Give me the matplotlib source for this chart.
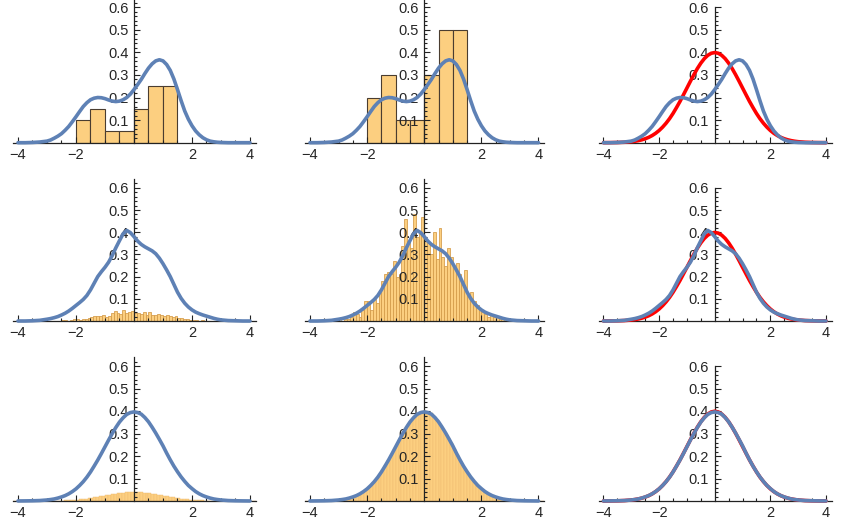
import numpy as np
import matplotlib
matplotlib.use("Agg")
import matplotlib.pyplot as plt
from matplotlib.ticker import FixedLocator, NullFormatter

plt.rcParams['font.family'] = ['Liberation Sans', 'DejaVu Sans']

# ---- data ----

# row 1: 20-point sample, bin width 0.5
small_edges = [-2.0, -1.5, -1.0, -0.5, 0.0, 0.5, 1.0, 1.5]
small_prob = [0.10, 0.15, 0.05, 0.05, 0.15, 0.25, 0.25]
small_width = 0.5

# row 2: medium sample, bin width 0.1 (pdf heights), left edges start at -3.4
mid_start = -3.4
mid_width = 0.1
mid_pdf = [0.01, 0.0, 0.0, 0.0, 0.01, 0.0, 0.01, 0.01, 0.02, 0.04,
           0.03, 0.02, 0.05, 0.09, 0.09, 0.05, 0.10, 0.08, 0.14, 0.18,
           0.21, 0.22, 0.21, 0.27, 0.20, 0.21, 0.34, 0.46, 0.36, 0.33,
           0.48, 0.38, 0.40, 0.47, 0.36, 0.35, 0.30, 0.40, 0.28, 0.42,
           0.29, 0.25, 0.33, 0.29, 0.24, 0.26, 0.21, 0.17, 0.23, 0.12,
           0.13, 0.09, 0.07, 0.05, 0.04, 0.03, 0.02, 0.03, 0.02, 0.02,
           0.01, 0.02, 0.01]

# row 3: large sample, bin width 0.1 (pdf heights), left edges start at -4.3
big_start = -4.3
big_width = 0.1
big_pdf = [0.0001, 0.0001, 0.0001, 0.0002, 0.0003, 0.0004, 0.0005, 0.0008, 0.001, 0.0015,
           0.002, 0.003, 0.004, 0.005, 0.007, 0.009, 0.012, 0.015, 0.020, 0.025,
           0.032, 0.040, 0.049, 0.060, 0.072, 0.086, 0.102, 0.120, 0.139, 0.160,
           0.183, 0.206, 0.230, 0.254, 0.278, 0.301, 0.323, 0.343, 0.360, 0.376,
           0.387, 0.394, 0.398, 0.399, 0.395, 0.390, 0.375, 0.359, 0.343, 0.322,
           0.300, 0.279, 0.256, 0.232, 0.205, 0.182, 0.160, 0.139, 0.120, 0.102,
           0.086, 0.072, 0.060, 0.049, 0.040, 0.032, 0.025, 0.020, 0.015, 0.012,
           0.009, 0.007, 0.005, 0.004, 0.003, 0.002, 0.0015, 0.001, 0.0008, 0.0005,
           0.0004, 0.0003, 0.0002, 0.0001, 0.0001, 0.0001]

# smooth kernel density curves and the normal pdf, sampled on this x grid
curve_x = ([-4.0, -3.75, -3.5, -3.25]
           + [round(-3 + 0.125 * i, 3) for i in range(49)]
           + [3.25, 3.5, 3.75, 4.0])
kde_small = [0.0, 0.0, 0.001, 0.003,
             0.007, 0.012, 0.02, 0.029, 0.04, 0.055, 0.072, 0.093, 0.115, 0.138, 0.16, 0.177,
             0.19, 0.197, 0.2, 0.199, 0.195, 0.189, 0.184, 0.182, 0.184, 0.19, 0.2, 0.215,
             0.235,
             0.257, 0.28, 0.306, 0.33, 0.349, 0.362, 0.367, 0.362, 0.346, 0.32, 0.282, 0.235,
             0.186, 0.14, 0.104, 0.075, 0.052, 0.035, 0.022, 0.013, 0.007, 0.004, 0.002, 0.001,
             0.0, 0.0, 0.0, 0.0]
kde_mid = [0.0, 0.0, 0.001, 0.003,
           0.008, 0.011, 0.015, 0.02, 0.027, 0.035, 0.045, 0.057, 0.07, 0.083, 0.097, 0.115,
           0.14, 0.17, 0.2, 0.222, 0.242, 0.265, 0.295, 0.33, 0.362, 0.393, 0.408, 0.398,
           0.38,
           0.36, 0.345, 0.334, 0.325, 0.316, 0.303, 0.283, 0.258, 0.23, 0.2, 0.165, 0.13,
           0.102, 0.08, 0.063, 0.05, 0.04, 0.033, 0.027, 0.022, 0.017, 0.012, 0.008, 0.005,
           0.002, 0.001, 0.0, 0.0]
kde_big = [0.0002, 0.0005, 0.001, 0.002,
           0.0045, 0.0065, 0.009, 0.013, 0.018, 0.024, 0.032, 0.042, 0.054, 0.069, 0.086, 0.106,
           0.129, 0.155, 0.182, 0.211, 0.241, 0.271, 0.300, 0.327, 0.351, 0.370, 0.385, 0.393,
           0.396,
           0.393, 0.386, 0.371, 0.352, 0.328, 0.302, 0.274, 0.245, 0.213, 0.183, 0.155, 0.130,
           0.107, 0.087, 0.069, 0.055, 0.042, 0.032, 0.024, 0.018, 0.013, 0.009, 0.0065, 0.0045,
           0.002, 0.001, 0.0005, 0.0002]
normal_pdf = [0.0001, 0.0004, 0.0009, 0.002,
              0.0044, 0.0064, 0.0091, 0.0127, 0.0175, 0.0237, 0.0317, 0.0417, 0.054, 0.0689,
              0.0863, 0.1064, 0.1295, 0.1554, 0.1826, 0.2121, 0.242, 0.2721, 0.3011, 0.3282,
              0.3521, 0.3719, 0.3867, 0.3958,
              0.3989,
              0.3958, 0.3867, 0.3719, 0.3521, 0.3282, 0.3011, 0.2721, 0.242, 0.2121, 0.1826,
              0.1554, 0.1295, 0.1064, 0.0863, 0.0689, 0.054, 0.0417, 0.0317, 0.0237, 0.0175,
              0.0127, 0.0091, 0.0064, 0.0044,
              0.002, 0.0009, 0.0004, 0.0001]

# ---- style ----
BLUE = '#5E81B5'
RED = '#FF0000'
FACE = '#FCCF80'
TEXT = '#262626'
W, H = 845, 524
XMIN, XMAX = -4.17, 4.2

# pixel position of x=-4 and x=4 for each column, y=0 pixel and px per unit for each row
col_px = [(18.0, 250.0), (310.0, 538.5), (603.5, 826.0)]
row_px = [(142.7, 226.0), (321.0, 222.0), (501.0, 225.0)]

fig = plt.figure(figsize=(W / 100, H / 100), dpi=100)


def make_axes(row, col):
    a, b = col_px[col]
    unit = (b - a) / 8
    left = a + (XMIN + 4) * unit
    right = a + (XMAX + 4) * unit
    y0, yu = row_px[row]
    ytop = 0.6 if col == 2 else (0.632 if row == 0 else 0.64)
    ax = fig.add_axes([left / W, 1 - y0 / H, (right - left) / W, ytop * yu / H])
    ax.set_xlim(XMIN, XMAX)
    ax.set_ylim(0, ytop)
    ax.patch.set_visible(False)
    for s in ['top', 'right']:
        ax.spines[s].set_visible(False)
    ax.spines['left'].set_position(('data', 0))
    for s in ['left', 'bottom']:
        ax.spines[s].set_linewidth(0.9)
        ax.spines[s].set_color('#222222')
    ax.set_axisbelow(False)
    ax.xaxis.set_major_locator(FixedLocator([-4, -2, 2, 4]))
    ax.xaxis.set_minor_locator(FixedLocator([-3.5, -3, -2.5, -1.5, -1, -0.5, 0.5, 1, 1.5, 2.5, 3, 3.5]))
    ax.set_xticklabels(['\u22124', '\u22122', '2', '4'])
    ax.yaxis.set_major_locator(FixedLocator([0.1, 0.2, 0.3, 0.4, 0.5, 0.6]))
    ax.yaxis.set_minor_locator(FixedLocator([v / 100 for v in range(2, 64, 2) if v % 10 != 0]))
    ax.set_yticklabels(['0.1', '0.2', '0.3', '0.4', '0.5', '0.6'])
    ax.yaxis.set_minor_formatter(NullFormatter())
    ax.tick_params(which='both', direction='in', color='#222222', width=0.8,
                   labelsize=10.5, labelcolor=TEXT)
    ax.tick_params(which='major', length=4)
    ax.tick_params(which='minor', length=2.2)
    ax.tick_params(axis='y', pad=4.0)
    ax.tick_params(axis='x', pad=3.5)
    return ax


def draw_bars(ax, start, width, heights, edge, lw):
    lefts = [start + i * width for i in range(len(heights))]
    ax.bar(lefts, heights, width=width, align='edge', color=FACE,
           edgecolor=edge, linewidth=lw, zorder=1)


def draw_curve(ax, ys, color):
    ax.plot(curve_x, ys, color=color, lw=2.6, solid_capstyle='round',
            solid_joinstyle='round', clip_on=False, zorder=3)


# row 1
small_pdf = [p / small_width for p in small_prob]
ax = make_axes(0, 0)
draw_bars(ax, small_edges[0], small_width, small_prob, '#4a3d30', 0.8)
draw_curve(ax, kde_small, BLUE)
ax = make_axes(0, 1)
draw_bars(ax, small_edges[0], small_width, small_pdf, '#4a3d30', 0.8)
draw_curve(ax, kde_small, BLUE)
ax = make_axes(0, 2)
draw_curve(ax, normal_pdf, RED)
draw_curve(ax, kde_small, BLUE)

# row 2
mid_prob = [h * mid_width for h in mid_pdf]
ax = make_axes(1, 0)
draw_bars(ax, mid_start, mid_width, mid_prob, '#d39a48', 0.55)
draw_curve(ax, kde_mid, BLUE)
ax = make_axes(1, 1)
draw_bars(ax, mid_start, mid_width, mid_pdf, '#d39a48', 0.55)
draw_curve(ax, kde_mid, BLUE)
ax = make_axes(1, 2)
draw_curve(ax, normal_pdf, RED)
draw_curve(ax, kde_mid, BLUE)

# row 3
big_prob = [h * big_width for h in big_pdf]
ax = make_axes(2, 0)
draw_bars(ax, big_start, big_width, big_prob, '#eebb70', 0.3)
draw_curve(ax, kde_big, BLUE)
ax = make_axes(2, 1)
draw_bars(ax, big_start, big_width, big_pdf, '#eebb70', 0.3)
draw_curve(ax, kde_big, BLUE)
ax = make_axes(2, 2)
draw_curve(ax, normal_pdf, RED)
draw_curve(ax, kde_big, BLUE)

fig.savefig('out.png', dpi=100)
